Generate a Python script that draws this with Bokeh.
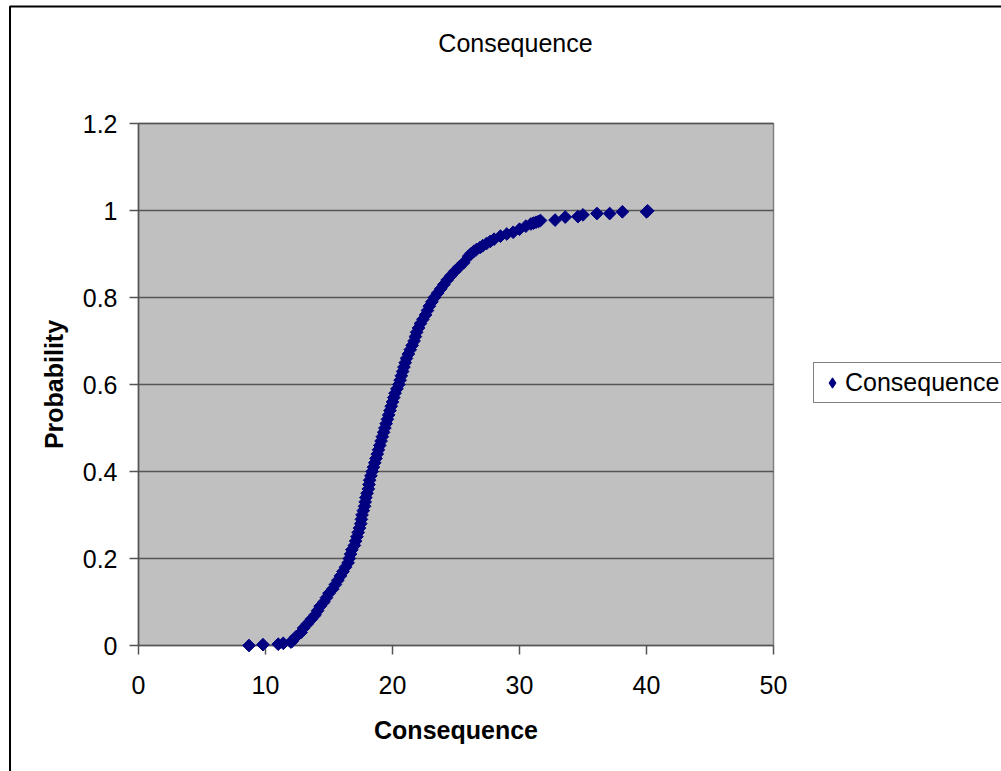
import numpy as np
from bokeh.plotting import figure
from bokeh.models import (Range1d, FixedTicker, NumeralTickFormatter, Legend,
                          LegendItem, Label, BoxAnnotation)
from bokeh.embed import file_html
from bokeh.resources import INLINE

# Sorted consequence values and their cumulative probabilities
consequence = [
    8.7, 9.8, 11.0, 11.4, 12.0,
    12.1, 12.4, 12.8, 13.0, 13.3, 13.6, 13.9, 14.1, 14.3, 14.6,
    14.8, 15.0, 15.3, 15.5, 15.7, 15.9, 16.1, 16.3, 16.5, 16.6,
    16.7, 16.8, 17.0, 17.1, 17.2, 17.3, 17.4, 17.5, 17.55, 17.6,
    17.7, 17.8, 17.85, 17.9, 18.0, 18.1, 18.15, 18.2, 18.3, 18.4,
    18.5, 18.6, 18.7, 18.8, 18.9, 19.0, 19.1, 19.2, 19.3, 19.4,
    19.5, 19.6, 19.7, 19.8, 19.9, 20.0, 20.1, 20.2, 20.35, 20.5,
    20.6, 20.7, 20.8, 20.9, 21.0, 21.1, 21.25, 21.4, 21.55, 21.7,
    21.8, 21.9, 22.05, 22.2, 22.4, 22.6, 22.75, 22.9, 23.1, 23.3,
    23.55, 23.8, 24.05, 24.3, 24.6, 24.9, 25.25, 25.6,
    26.0, 26.2, 26.4, 26.6, 26.9, 27.1, 27.4, 27.7, 28.0, 28.5,
    29.0, 29.5, 30.0, 30.5, 30.9, 31.1, 31.3, 31.5, 31.65,
    32.8, 33.6, 34.6, 35.0, 36.1, 37.1, 38.1, 40.0, 40.1,
]
probability = [
    0.0, 0.002, 0.003, 0.005, 0.008,
    0.01, 0.02, 0.03, 0.04, 0.05, 0.06, 0.07, 0.08, 0.09, 0.10,
    0.11, 0.12, 0.13, 0.14, 0.15, 0.16, 0.17, 0.18, 0.19, 0.20,
    0.21, 0.22, 0.23, 0.24, 0.25, 0.26, 0.27, 0.28, 0.29, 0.30,
    0.31, 0.32, 0.33, 0.34, 0.35, 0.36, 0.37, 0.38, 0.39, 0.40,
    0.41, 0.42, 0.43, 0.44, 0.45, 0.46, 0.47, 0.48, 0.49, 0.50,
    0.51, 0.52, 0.53, 0.54, 0.55, 0.56, 0.57, 0.58, 0.59, 0.60,
    0.61, 0.62, 0.63, 0.64, 0.65, 0.66, 0.67, 0.68, 0.69, 0.70,
    0.71, 0.72, 0.73, 0.74, 0.75, 0.76, 0.77, 0.78, 0.79, 0.80,
    0.81, 0.82, 0.83, 0.84, 0.85, 0.86, 0.87, 0.88,
    0.895, 0.901, 0.906, 0.910, 0.915, 0.919, 0.924, 0.929, 0.934, 0.941,
    0.946, 0.950, 0.957, 0.964, 0.969, 0.971, 0.973, 0.975, 0.977,
    0.978, 0.985, 0.986, 0.990, 0.993, 0.993, 0.997, 0.997, 0.999,
]

x_ticks = [0, 10, 20, 30, 40, 50]
y_ticks = [0, 0.2, 0.4, 0.6, 0.8, 1.0, 1.2]

FONT = "Liberation Sans"
GRID = "#555555"
NAVY = "#000080"

# Canvas size and where the plot area sits on it (pixels from top-left)
W, H = 1001, 771
AREA_L, AREA_R, AREA_T, AREA_B = 138, 773, 123, 645

x0, x1 = x_ticks[0], x_ticks[-1]
y0, y1 = y_ticks[0], y_ticks[-1]
sx = (x1 - x0) / (AREA_R - AREA_L)
sy = (y1 - y0) / (AREA_B - AREA_T)

# The frame fills the whole canvas; axes are pinned at the data origin
p = figure(width=W, height=H,
           x_range=Range1d(x0 - AREA_L * sx, x1 + (W - AREA_R) * sx),
           y_range=Range1d(y0 - (H - AREA_B) * sy, y1 + AREA_T * sy),
           output_backend="svg", toolbar_location=None,
           min_border=0)
p.title.visible = False
p.background_fill_color = "white"
p.border_fill_color = "white"
p.outline_line_color = None
p.xgrid.visible = False
p.ygrid.visible = False

# Outer chart border (left and top edges visible)
p.add_layout(BoxAnnotation(left=9.5, right=W + 50, top=H - 6, bottom=-50,
                           left_units="screen", right_units="screen",
                           top_units="screen", bottom_units="screen",
                           fill_alpha=0, line_color="black", line_alpha=1,
                           line_width=2, level="underlay"))

# Grey plot area
p.quad(left=[x0], right=[x1], bottom=[y0], top=[y1],
       fill_color="#c0c0c0", line_color="#808080", line_width=1.5)

# Horizontal gridlines
p.segment(x0=[x0] * (len(y_ticks) - 1), x1=[x1] * (len(y_ticks) - 1),
          y0=y_ticks[1:], y1=y_ticks[1:], line_color=GRID, line_width=1.5)

p.xaxis.ticker = FixedTicker(ticks=x_ticks)
p.yaxis.ticker = FixedTicker(ticks=y_ticks)
p.yaxis.formatter = NumeralTickFormatter(format="0.[0]")
p.xaxis.fixed_location = y0
p.yaxis.fixed_location = x0
p.xaxis.bounds = (x0, x1)
p.yaxis.bounds = (y0, y1)

for ax in (p.xaxis[0], p.yaxis[0]):
    ax.axis_line_color = GRID
    ax.axis_line_width = 1.5
    ax.major_tick_line_color = GRID
    ax.major_tick_line_width = 1.5
    ax.major_tick_in = 0
    ax.major_tick_out = 9
    ax.minor_tick_line_color = None
    ax.major_label_text_font = FONT
    ax.major_label_text_font_size = "25px"
    ax.major_label_text_color = "black"
    ax.axis_label_text_font = FONT
    ax.axis_label_text_font_size = "25px"
    ax.axis_label_text_font_style = "bold"
    ax.axis_label_text_color = "black"

p.xaxis.axis_label = "Consequence"
p.yaxis.axis_label = "Probability"
p.xaxis.major_label_standoff = 21
p.xaxis.axis_label_standoff = 19
p.yaxis.major_label_standoff = 12
p.yaxis.axis_label_standoff = 12

# Legend key: upright diamonds, hidden underneath the plotted points
key = p.scatter(consequence, probability, marker="diamond", size=7,
                fill_color=NAVY, line_color=NAVY, line_width=1)

# Data points as navy diamonds
pts = p.scatter(consequence, probability, marker="square", angle=np.pi / 4,
                size=9, fill_color=NAVY, line_color=NAVY, line_width=1)
pts.level = "overlay"

legend = Legend(items=[LegendItem(label="Consequence", renderers=[key])],
                location=(813, H - 403))
legend.label_text_font = FONT
legend.label_text_font_size = "25px"
legend.label_text_color = "black"
legend.border_line_color = "#000000"
legend.border_line_width = 1
legend.background_fill_color = "white"
legend.background_fill_alpha = 1
legend.padding = 5
legend.spacing = 0
legend.margin = 0
legend.label_standoff = 0
legend.glyph_width = 26
legend.glyph_height = 27
legend.label_height = 27
legend.label_width = 190
p.add_layout(legend)

p.add_layout(Label(x=515, y=H - 42, x_units="screen", y_units="screen",
                   text="Consequence", text_align="center",
                   text_baseline="middle", text_font=FONT,
                   text_font_size="25px", text_color="black"))

open("out.html", "w").write(file_html(p, INLINE))
